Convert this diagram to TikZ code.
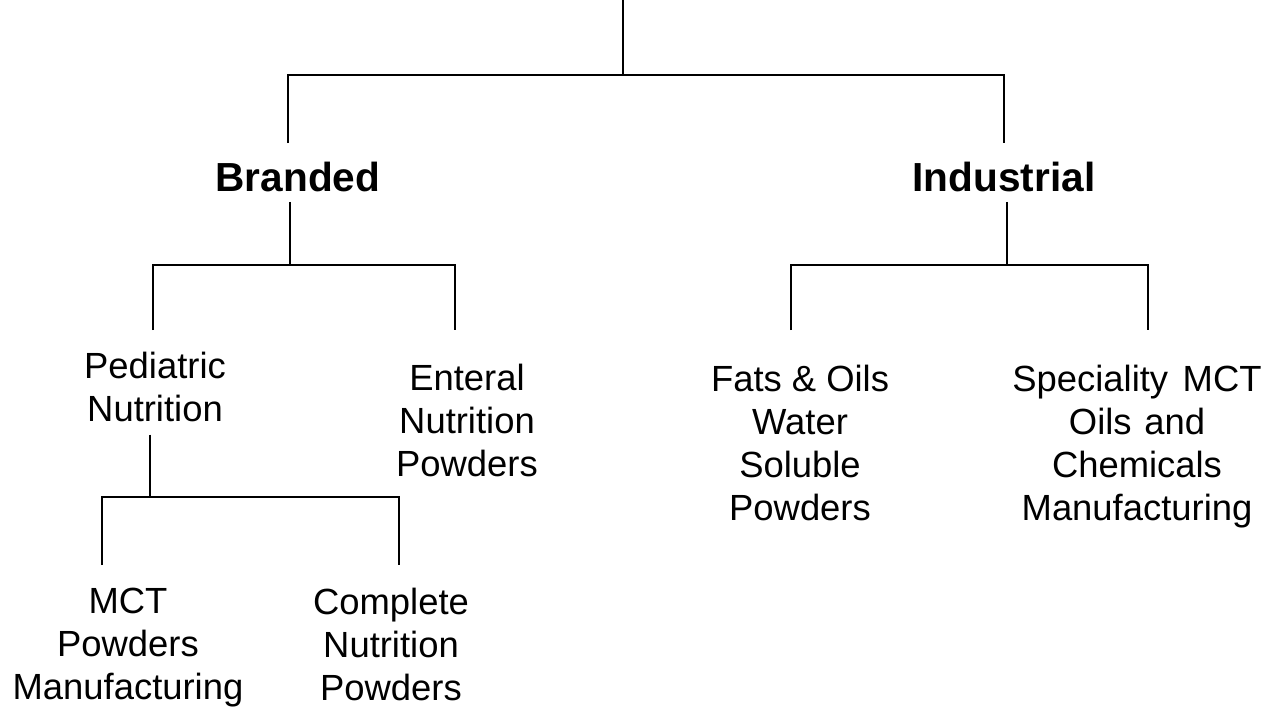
\documentclass[tikz,border=0pt]{standalone}
\usepackage{fontspec}
\setmainfont{Liberation Sans}
\usepackage{tikz}
\tikzset{
	segment/.style={font=\fontsize{20.3}{24}\selectfont\bfseries, align=center, inner sep=0pt, anchor=north},
	product/.style={font=\fontsize{18.2}{21.5}\selectfont, align=center, inner sep=0pt, anchor=north}
}
\begin{document}
\begin{tikzpicture}[x=0.5pt, y=-0.5pt, line width=1pt]
		\useasboundingbox (0,0) rectangle (1278,706);
		\coordinate (top) at (623,0);
		\coordinate (rootbar) at (623,75);
		\coordinate (brandbar) at (290,265);
		\coordinate (indbar) at (1007,265);
		\coordinate (pedbar) at (150,497);
		\node[segment] (branded) at (298,161) {Branded};
		\node[segment] (industrial) at (1004,161) {Industrial};
		\node[product] (pediatric) at (155,351) {Pediatric\\Nutrition};
		\node[product] (enteral) at (467,363) {Enteral\\Nutrition\\Powders};
		\node[product] (fats) at (800,364) {Fats \& Oils\\Water\\Soluble\\Powders};
		\node[product] (speciality) at (1137,364) {Speciality\hspace{0.4em}MCT\\Oils\hspace{0.35em}and\\Chemicals\\Manufacturing};
		\node[product] (mct) at (128,587) {MCT\\Powders\\Manufacturing};
		\node[product] (complete) at (391,587) {Complete\\Nutrition\\Powders};
		\draw (top) -- (rootbar);
		\draw ([xshift=-5pt, yshift=9pt]branded.north) |- (rootbar) -| ([yshift=9pt]industrial.north);
		\draw ([xshift=-4pt, yshift=-4.5pt]branded.south) -- (brandbar);
		\draw ([xshift=-1pt, yshift=10.5pt]pediatric.north) |- (brandbar) -| ([xshift=-6pt, yshift=16.5pt]enteral.north);
		\draw ([xshift=1.5pt, yshift=-4.5pt]industrial.south) -- (indbar);
		\draw ([xshift=-4.5pt, yshift=17pt]fats.north) |- (indbar) -| ([xshift=5.5pt, yshift=17pt]speciality.north);
		\draw ([xshift=-2.5pt, yshift=-6pt]pediatric.south) -- (pedbar);
		\draw ([xshift=-13pt, yshift=11pt]mct.north) |- (pedbar) -| ([xshift=4pt, yshift=11pt]complete.north);
	\end{tikzpicture}
\end{document}
